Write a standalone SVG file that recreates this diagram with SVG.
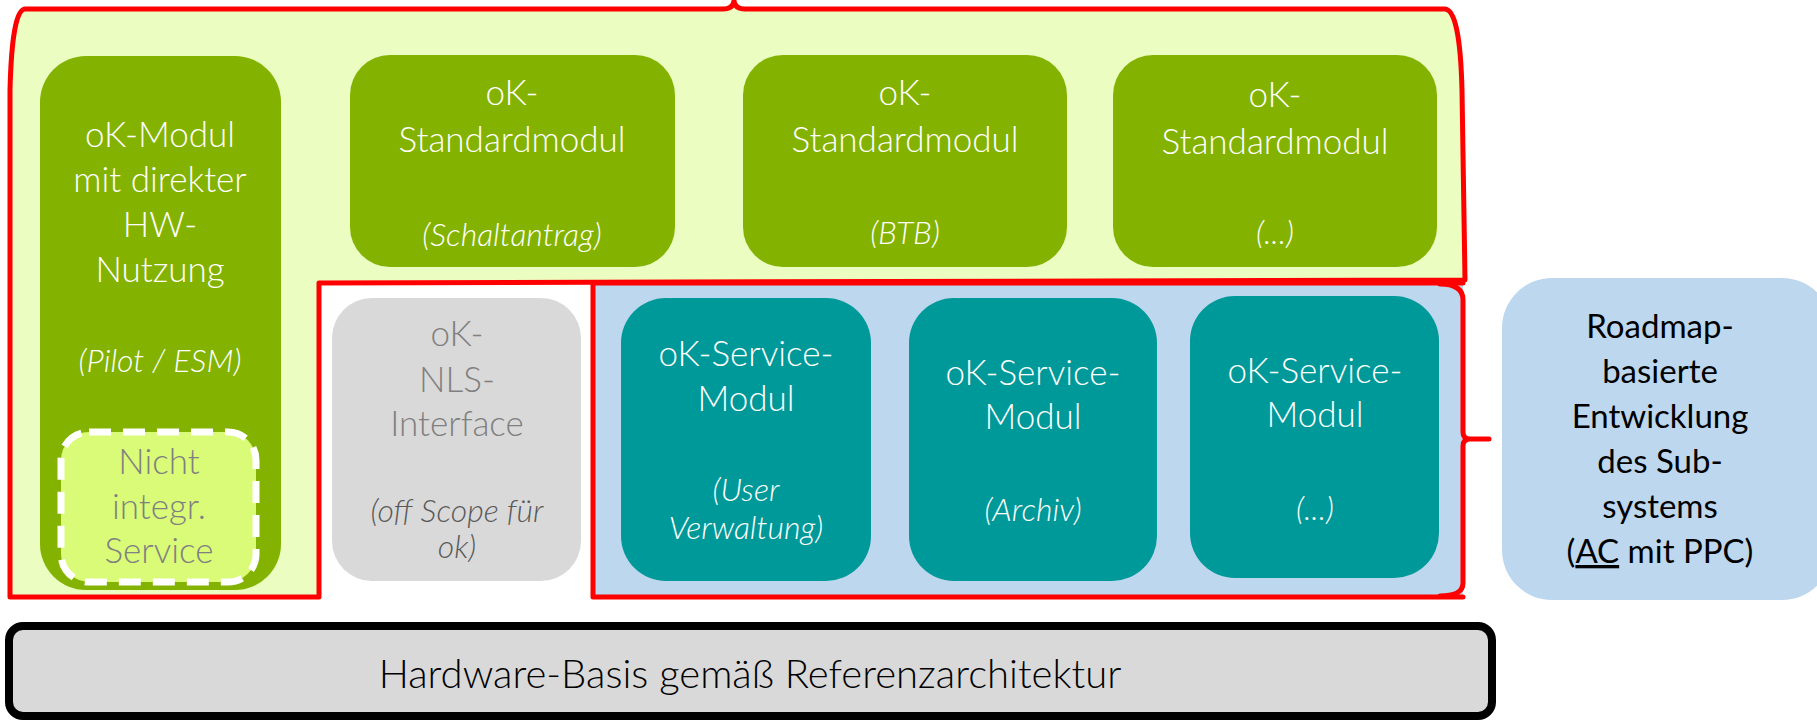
<svg xmlns="http://www.w3.org/2000/svg" width="1817" height="720" viewBox="0 0 1817 720">
<style>
.t{font-family:Lato,"Liberation Sans",sans-serif;font-weight:300;font-size:35px;text-anchor:middle}
.i{font-style:italic;font-size:32px}
.w{fill:#ffffff}
.g{fill:#808080}
.dg{fill:#595959}
.green{fill:#83B300}
.teal{fill:#009999}
.red{stroke:#FF0000;stroke-width:5;stroke-linejoin:round;stroke-linecap:round}
.nf{fill:none}
</style>
<g id="containers">
<path d="M10 90 L10 597 L319 597 L319 283 L1465 280 L1462 90 Q1460 10 1445 9 L745 9 Q735 9 734 1 Q733 9 723 9 L25 9 Q12 10 10 90 Z" fill="#EBFDC0" class="red"/>
<rect x="593" y="283" width="870" height="313" fill="#BDD7EE"/>
<path class="red nf" d="M1463 283 L593 283 L593 597 L1463 597"/>
<path class="red nf" d="M1440 284 Q1463 284 1463 300 L1463 432 Q1463 439 1470 439 L1489 439 M1470 439 Q1463 439 1463 446 L1463 583 Q1463 596 1440 596"/>
</g>
<g id="n-hw-modul">
<rect x="40" y="56" width="241" height="534" rx="46" class="green"/>
<text class="t w" x="160" y="147">oK-Modul</text>
<text class="t w" x="160" y="192">mit direkter</text>
<text class="t w" x="160" y="237">HW-</text>
<text class="t w" x="160" y="282">Nutzung</text>
<text class="t i w" x="160" y="372">(Pilot / ESM)</text>
</g>
<g id="n-nicht-integr">
<rect x="61" y="432" width="195" height="150" rx="28" fill="#D9FB78" stroke="#ffffff" stroke-width="7" stroke-dasharray="22 12"/>
<text class="t g" x="159" y="474">Nicht</text>
<text class="t g" x="159" y="519">integr.</text>
<text class="t g" x="159" y="563">Service</text>
</g>
<g id="n-std-schaltantrag">
<rect x="350" y="55" width="325" height="212" rx="40" class="green"/>
<text class="t w" x="512" y="105">oK-</text>
<text class="t w" x="512" y="152">Standardmodul</text>
<text class="t i w" x="512" y="246">(Schaltantrag)</text>
</g>
<g id="n-std-btb">
<rect x="743" y="55" width="324" height="212" rx="40" class="green"/>
<text class="t w" x="905" y="105">oK-</text>
<text class="t w" x="905" y="152">Standardmodul</text>
<text class="t i w" x="905" y="244">(BTB)</text>
</g>
<g id="n-std-etc">
<rect x="1113" y="55" width="324" height="212" rx="40" class="green"/>
<text class="t w" x="1275" y="107">oK-</text>
<text class="t w" x="1275" y="154">Standardmodul</text>
<text class="t i w" x="1275" y="244">(...)</text>
</g>
<g id="n-nls">
<rect x="332" y="298" width="249" height="283" rx="40" fill="#D9D9D9"/>
<text class="t g" x="457" y="346">oK-</text>
<text class="t g" x="457" y="392">NLS-</text>
<text class="t g" x="457" y="436">Interface</text>
<text class="t i dg" x="457" y="522">(off Scope für</text>
<text class="t i dg" x="457" y="558">ok)</text>
</g>
<g id="n-svc-user">
<rect x="621" y="298" width="250" height="283" rx="45" class="teal"/>
<text class="t w" x="746" y="366">oK-Service-</text>
<text class="t w" x="746" y="411">Modul</text>
<text class="t i w" x="746" y="501">(User</text>
<text class="t i w" x="746" y="539">Verwaltung)</text>
</g>
<g id="n-svc-archiv">
<rect x="909" y="298" width="248" height="283" rx="45" class="teal"/>
<text class="t w" x="1033" y="385">oK-Service-</text>
<text class="t w" x="1033" y="429">Modul</text>
<text class="t i w" x="1033" y="521">(Archiv)</text>
</g>
<g id="n-svc-etc">
<rect x="1190" y="296" width="249" height="282" rx="45" class="teal"/>
<text class="t w" x="1315" y="383">oK-Service-</text>
<text class="t w" x="1315" y="427">Modul</text>
<text class="t i w" x="1315" y="520">(...)</text>
</g>
<g id="n-roadmap">
<rect x="1502" y="278" width="330" height="322" rx="50" fill="#BDD7EE"/>
<g font-family="Lato,'Liberation Sans',sans-serif" font-size="33" text-anchor="middle" fill="#000000">
<text x="1660" y="338">Roadmap-</text>
<text x="1660" y="383">basierte</text>
<text x="1660" y="428">Entwicklung</text>
<text x="1660" y="473">des Sub-</text>
<text x="1660" y="518">systems</text>
<text x="1660" y="563">(<tspan text-decoration="underline">AC</tspan> mit PPC)</text>
</g>
</g>
<g id="n-hardware">
<rect x="9" y="626" width="1483" height="90" rx="14" fill="#D9D9D9" stroke="#000000" stroke-width="8"/>
<text class="t" x="750" y="688" fill="#000000" style="font-size:40px">Hardware-Basis gemäß Referenzarchitektur</text>
</g>
<g id="connectors"></g>
</svg>
